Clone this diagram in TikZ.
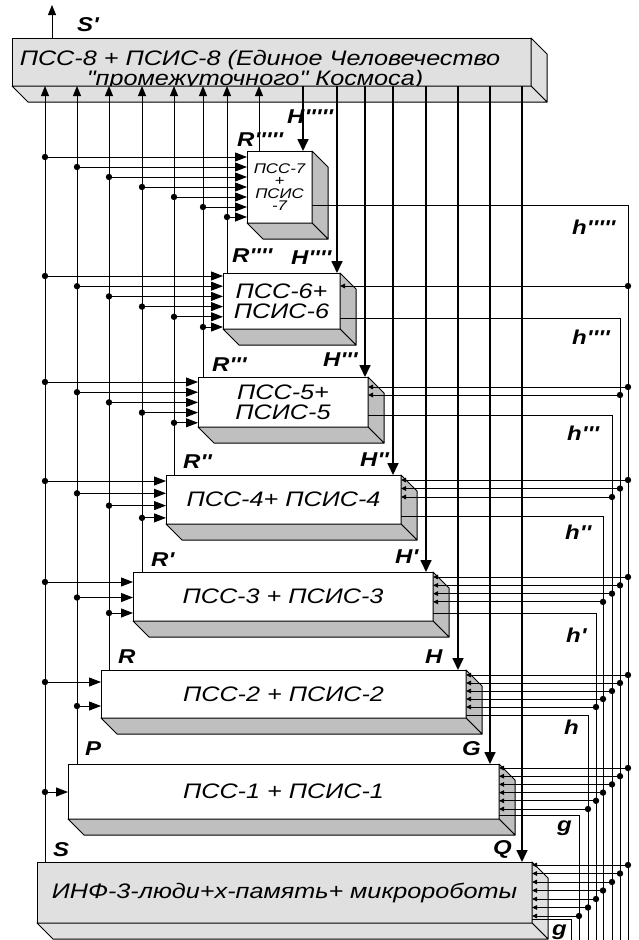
\documentclass[tikz,border=0pt]{standalone}
\usepackage{fontspec}
\newfontfamily\boxfont[FakeStretch=1.2]{Liberation Sans}
\newfontfamily\lblfont[FakeStretch=1.2]{Liberation Sans}
\usetikzlibrary{arrows.meta,calc}
\definecolor{facegray}{gray}{0.75}
\definecolor{lightgray}{gray}{0.88}

\begin{document}
\begin{tikzpicture}[x=1pt,y=-1pt,
    box/.style={draw,line width=1pt,fill=white,inner sep=0pt,outer sep=0pt,anchor=north west,align=center,font=\boxfont\itshape\fontsize{21}{20}\selectfont},
    face/.style={draw,line width=1pt,fill=facegray,line join=round},
    lbl/.style={anchor=west,inner sep=0pt,font=\lblfont\bfseries\itshape\fontsize{20}{20}\selectfont},
    inarrow/.style={line width=1pt,-{Triangle[length=12pt,width=9pt]}},
    uparrow/.style={line width=1pt,-{Triangle[length=10pt,width=8pt]}},
    harrow/.style={line width=1.7pt,-{Triangle[length=12pt,width=11pt]}},
    rinarrow/.style={line width=0.9pt,-{Triangle[length=5pt,width=4.5pt]}},
    rline/.style={line width=1pt}]
  \useasboundingbox (0,0) rectangle (639,940);
  % Draw the blocks
  \node[box,fill=lightgray,minimum width=519pt,minimum height=48pt] (b8) at (12,38) {};
  \node[box,draw=none,fill=none,anchor=center,font=\boxfont\itshape\fontsize{21}{17}\selectfont] (t8) at (260,70) {ПСС-8 + ПСИС-8 (Единое Человечество\\"промежуточного" Космоса)\hspace*{10pt}};
  \node[box,font=\boxfont\itshape\fontsize{14}{12.5}\selectfont,minimum width=65pt,minimum height=72pt] (b7) at (247,151) {ПСС-7\\+\\ПСИС\\-7};
  \node[box,minimum width=117pt,minimum height=56pt] (b6) at (223,273) {ПСС-6+\\ПСИС-6};
  \node[box,minimum width=170pt,minimum height=50pt] (b5) at (198,377) {ПСС-5+\\ПСИС-5};
  \node[box,minimum width=235pt,minimum height=49pt] (b4) at (166,475) {ПСС-4+ ПСИС-4};
  \node[box,minimum width=300pt,minimum height=49pt] (b3) at (133,572) {ПСС-3 + ПСИС-3};
  \node[box,minimum width=365pt,minimum height=48pt] (b2) at (101,670) {ПСС-2 + ПСИС-2};
  \node[box,minimum width=431pt,minimum height=55pt] (b1) at (68,764) {ПСС-1 + ПСИС-1};
  \node[box,fill=lightgray,minimum width=495pt,minimum height=61pt] (b0) at (37,862) {ИНФ-3-люди+х-память+ микророботы};
  % side and bottom faces
  \foreach \b/\c in {b8/lightgray,b7/facegray,b6/facegray,b5/facegray,b4/facegray,b3/facegray,b2/facegray,b1/facegray,b0/lightgray} {
    \filldraw[face,fill=\c] (\b.north east) -- ++(16,16) -- ($(\b.south east)+(16,16)$) -- (\b.south east) -- cycle;
    \filldraw[face,fill=\c] (\b.south west) -- ++(16,16) -- ($(\b.south east)+(16,16)$) -- (\b.south east) -- cycle;
  }
  % Outputs R going up to the top block
  \foreach \k/\x in {0/45,1/77,2/109,3/142,4/174,5/203,6/227,7/259} {
    \coordinate (r-\k) at (\x,0 |- b\k.north);
    \draw[uparrow] (r-\k) -- (r-\k |- b8.south);
  }
  \coordinate (sp-a) at (52,0 |- b8.north);
  \coordinate (sp-b) at (52,5);
  \draw[uparrow] (sp-a) -- (sp-b);
  % Inputs H coming down from the top block
  \foreach \k/\x in {7/303,6/337,5/365,4/393,3/426,2/458,1/490,0/522} {
    \coordinate (hin-\k) at (\x,0 |- b\k.north);
    \draw[harrow] (hin-\k |- b8.south) -- (hin-\k);
  }
  % Left inputs with dots
  \foreach \k/\yo/\dy in {1/792/0,2/682/24,3/582/15.5,4/481/12.3,5/382/10.2,6/276/10.2,7/157/10} {
    \pgfmathtruncatemacro\last{\k-1}
    \foreach \i in {0,...,\last} {
      \pgfmathsetmacro\yy{\yo+\i*\dy}
      \coordinate (li-\k-\i) at (b\k.west |- 0,\yy);
      \coordinate (ld-\k-\i) at (r-\i |- li-\k-\i);
      \draw[inarrow] (ld-\k-\i) -- (li-\k-\i);
      \fill (ld-\k-\i) circle (3.2pt);
    }
  }
  % Outputs h going right and down
  \foreach \k/\yo/\xv in {7/205/628,6/318/620,5/415/612,4/516/603,3/613/596,2/715/588,1/815/579,0/919/571} {
    \coordinate (o-\k) at (b\k.east |- 0,\yo);
    \coordinate (v-\k) at (\xv,\yo);
    \coordinate (e-\k) at (\xv,940);
    \draw[rline] (o-\k) -- (v-\k) -- (e-\k);
  }
  % Right inputs with dots
  \foreach \k/\yo/\dy in {6/286/0,5/387/8,4/480/8.5,3/577/8.3,2/675/8,1/768/8.2,0/865/8.5} {
    \pgfmathtruncatemacro\last{6-\k}
    \foreach \i in {0,...,\last} {
      \pgfmathtruncatemacro\j{7-\i}
      \pgfmathsetmacro\yy{\yo+\i*\dy}
      \coordinate (ri-\k-\i) at (b\k.east |- 0,\yy);
      \coordinate (rd-\k-\i) at (v-\j |- ri-\k-\i);
      \draw[rinarrow] (rd-\k-\i) -- (ri-\k-\i);
      \fill (rd-\k-\i) circle (3.2pt);
    }
  }
  % Labels
  \node[lbl] (lSp) at (77,25) {S'};
  \node[lbl] (lH5) at (287,117) {H'''''};
  \node[lbl] (lR5) at (237,140) {R'''''};
  \node[lbl] (lR4) at (232,256) {R''''};
  \node[lbl] (lH4) at (291,258) {H''''};
  \node[lbl] (lR3) at (212,365) {R'''};
  \node[lbl] (lH3) at (323,360) {H'''};
  \node[lbl] (lR2) at (183,462) {R''};
  \node[lbl] (lH2) at (360,460) {H''};
  \node[lbl] (lR1) at (151,560) {R'};
  \node[lbl] (lH1) at (395,557) {H'};
  \node[lbl] (lR) at (118,657) {R};
  \node[lbl] (lH) at (425,657) {H};
  \node[lbl] (lP) at (85,749) {P};
  \node[lbl] (lG) at (462,749) {G};
  \node[lbl] (lS) at (53,850) {S};
  \node[lbl] (lQ) at (493,849) {Q};
  \node[lbl] (lh5) at (572,227) {h'''''};
  \node[lbl] (lh4) at (572,337) {h''''};
  \node[lbl] (lh3) at (567,433) {h'''};
  \node[lbl] (lh2) at (565,532) {h''};
  \node[lbl] (lh1) at (566,635) {h'};
  \node[lbl] (lh) at (564,727) {h};
  \node[lbl] (lg1) at (557,828) {g};
  \node[lbl] (lg0) at (552,932) {g};
\end{tikzpicture}
\end{document}
